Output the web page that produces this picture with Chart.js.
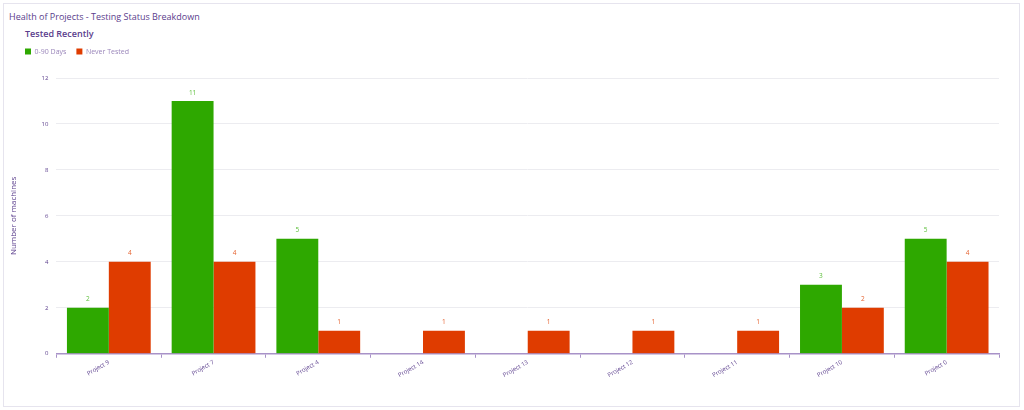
<!DOCTYPE html>
<html>
<head>
<meta charset="utf-8">
<script src="https://cdn.jsdelivr.net/npm/chart.js@4"></script>
<style>
  body { margin: 0; background: #fff; font-family: "Open Sans", sans-serif; }
  .card { position: absolute; left: 3px; top: 3px; width: 1015px; height: 402px; border: 1px solid #e6e4ee; }
  .title { position: absolute; left: 5px; top: 6px; font-size: 9px; color: #5a3d8c; }
  .subtitle { position: absolute; left: 21px; top: 23px; font-size: 9px; font-weight: 600; color: #5a3d8c; }
  .wrap { position: absolute; left: -3px; top: 34px; width: 1013px; height: 366px; }
</style>
</head>
<body>
<div class="card">
  <div class="title">Health of Projects - Testing Status Breakdown</div>
  <div class="subtitle">Tested Recently</div>
  <div class="wrap"><canvas id="chart"></canvas></div>
</div>
<script>
const projects = ['Project 9', 'Project 7', 'Project 4', 'Project 14', 'Project 13', 'Project 12', 'Project 11', 'Project 10', 'Project 0']
const recent = [2, 11, 5, 0, 0, 0, 0, 3, 5]
const neverTested = [4, 4, 1, 1, 1, 1, 1, 2, 4]
const yTicks = [0, 2, 4, 6, 8, 10, 12]

const purple = '#5a3d8c'

// draws the value above every non-zero bar
const barLabels = {
  id: 'barLabels',
  afterDatasetsDraw(chart) {
    const ctx = chart.ctx
    ctx.save()
    ctx.font = '6.5px "Open Sans", sans-serif'
    ctx.textAlign = 'center'
    ctx.textBaseline = 'bottom'
    chart.data.datasets.forEach((ds, i) => {
      chart.getDatasetMeta(i).data.forEach((bar, j) => {
        if (!ds.data[j]) return
        ctx.fillStyle = ds.labelColor
        ctx.fillText(ds.data[j], bar.x, bar.y - 5)
      })
    })
    ctx.restore()
  }
}

const legendGap = {
  id: 'legendGap',
  beforeInit(chart) {
    const fit = chart.legend.fit
    chart.legend.fit = function() {
      fit.bind(chart.legend)()
      this.height += 13
    }
  }
}

new Chart(document.getElementById('chart'), {
  type: 'bar',
  data: {
    labels: projects,
    datasets: [
      { label: '0-90 Days', data: recent, backgroundColor: '#2ea800', borderColor: '#2ea800', labelColor: '#5cbf3a' },
      { label: 'Never Tested', data: neverTested, backgroundColor: '#df3c00', borderColor: '#df3c00', labelColor: '#e5622f' }
    ]
  },
  options: {
    responsive: true,
    maintainAspectRatio: false,
    animation: false,
    categoryPercentage: 0.8,
    barPercentage: 1.0,
    layout: { padding: { left: 14, right: 15, bottom: 24 } },
    plugins: {
      legend: {
        align: 'start',
        labels: {
          boxWidth: 6, boxHeight: 6, padding: 10,
          color: '#9a86ba',
          font: { size: 7, family: '"Open Sans", sans-serif' }
        }
      },
      tooltip: { enabled: false }
    },
    scales: {
      x: {
        grid: { display: true, drawOnChartArea: false, offset: true, tickLength: 4, color: '#a892c8' },
        border: { color: '#a892c8', width: 1.5 },
        ticks: {
          color: purple, minRotation: 30, maxRotation: 30, padding: 1,
          font: { size: 6, family: '"Open Sans", sans-serif' }
        }
      },
      y: {
        min: 0,
        max: 12,
        afterBuildTicks(axis) { axis.ticks = yTicks.map(v => ({ value: v })) },
        grid: { color: '#ececf0', drawTicks: false },
        border: { display: false },
        ticks: { color: purple, padding: 8, font: { size: 6, family: '"Open Sans", sans-serif' } },
        title: {
          display: true, text: 'Number of machines', color: purple,
          padding: { top: -6, bottom: 15 },
          font: { size: 8, family: '"Open Sans", sans-serif' }
        }
      }
    }
  },
  plugins: [barLabels, legendGap]
})
</script>
</body>
</html>
